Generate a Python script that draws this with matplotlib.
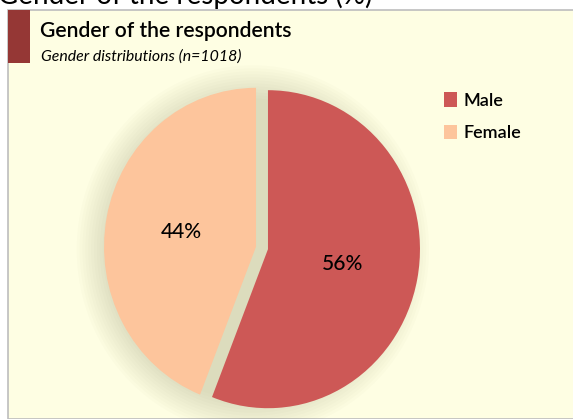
import matplotlib
matplotlib.use("Agg")
import matplotlib.pyplot as plt
from matplotlib.patches import Rectangle, Circle

plt.rcParams['font.family'] = ['Lato', 'DejaVu Sans']

# data
labels = ["Male", "Female"]
shares = [56, 44]
colors = ["#CD5856", "#FDC59C"]

W, H = 573, 419
fig = plt.figure(figsize=(W / 100, H / 100), dpi=100)
fig.patch.set_facecolor("white")


def fx(px):
    return px / W


def fy(py):
    return 1 - py / H


# panel background + accent bar
fig.patches.append(Rectangle((fx(8), 0), 1 - fx(8) + 0.01, fy(10), transform=fig.transFigure,
                             facecolor="#FEFEE3", edgecolor="#BDBDBD", lw=1.2, zorder=0))
fig.patches.append(Rectangle((fx(8), fy(63)), fx(30) - fx(8), fy(10) - fy(63), transform=fig.transFigure,
                             facecolor="#953735", edgecolor="none", zorder=1))

# cut-off heading above the panel
fig.text(fx(-2), fy(4), "Gender of the respondents (%)", fontsize=20, va="baseline", ha="left")
fig.text(fx(40), fy(37), "Gender of the respondents", fontsize=15.2, va="baseline", ha="left",
         fontweight="semibold")
fig.text(fx(41), fy(61), "Gender distributions (n=1018)", fontsize=11.4, style="italic",
         va="baseline", ha="left")

# pie axes: 1 unit = 152 px horizontally, 159 px vertically
cx, cy, box = 262, 248, 400
ax = fig.add_axes([fx(cx - box / 2), fy(cy + box / 2), box / W, box / H])
ax.set_zorder(5)
wedges, texts, autotexts = ax.pie(shares, colors=colors, startangle=90, counterclock=False,
                                  explode=[0.04, 0.04], autopct="%1.0f%%", pctdistance=0.5,
                                  textprops=dict(fontsize=15, color="black"))
ax.set_aspect("auto")
ax.set_xlim(-box / 2 / 152, box / 2 / 152)
ax.set_ylim(-box / 2 / 159, box / 2 / 159)
ax.axis("off")

# soft shadow behind the pie (offset to the left)
for i in range(12):
    ax.add_patch(Circle((-0.06, -0.01), 0.95 + 0.019 * i, facecolor="#8C8C5C",
                        edgecolor="none", alpha=0.025, zorder=0))
for w in wedges:
    w.set_zorder(2)
for t in autotexts:
    t.set_zorder(3)
    t.set_fontweight("medium")

leg = ax.legend(wedges, labels, loc="upper left", bbox_to_anchor=(fx(428), fy(76)),
                bbox_transform=fig.transFigure, frameon=False, handlelength=0.7, handleheight=0.85,
                handletextpad=0.35, labelspacing=0.9, prop=dict(size=13, weight="semibold"))

fig.savefig("out.png", dpi=100)
